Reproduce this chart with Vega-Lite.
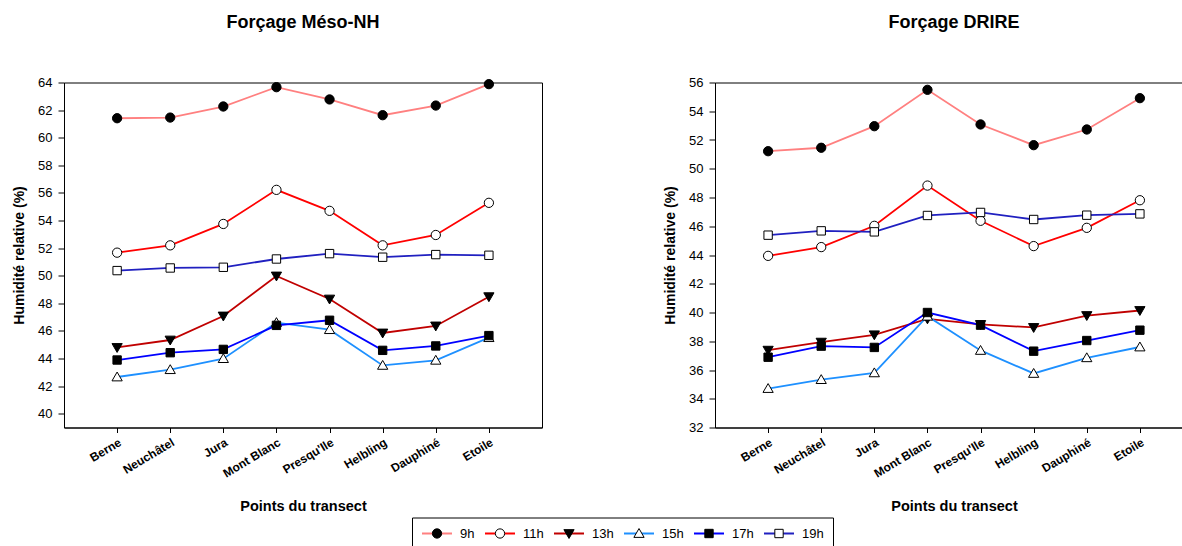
{
  "$schema": "https://vega.github.io/schema/vega-lite/v6.json",
  "background": "white",
  "padding": {"left": 12, "top": 12.5, "right": 0, "bottom": 0},
  "bounds": "flush",
  "spacing": 173,
  "config": {
    "font": "Liberation Sans",
    "view": {"stroke": "black", "strokeWidth": 1},
    "axis": {"domainColor": "black", "tickColor": "black", "labelColor": "black", "titleColor": "black", "grid": false, "labelFont": "Liberation Sans", "titleFont": "Liberation Sans"},
    "title": {"font": "Liberation Sans", "fontSize": 18, "fontWeight": "bold", "color": "black", "anchor": "middle"}
  },
  "datasets": {
    "rh": [
      {"forcage": "Méso-NH", "point": "Berne", "heure": "9h", "hr": 61.41},
      {"forcage": "Méso-NH", "point": "Neuchâtel", "heure": "9h", "hr": 61.46},
      {"forcage": "Méso-NH", "point": "Jura", "heure": "9h", "hr": 62.26},
      {"forcage": "Méso-NH", "point": "Mont Blanc", "heure": "9h", "hr": 63.66},
      {"forcage": "Méso-NH", "point": "Presqu'Ile", "heure": "9h", "hr": 62.77},
      {"forcage": "Méso-NH", "point": "Helbling", "heure": "9h", "hr": 61.63},
      {"forcage": "Méso-NH", "point": "Dauphiné", "heure": "9h", "hr": 62.33},
      {"forcage": "Méso-NH", "point": "Etoile", "heure": "9h", "hr": 63.88},
      {"forcage": "Méso-NH", "point": "Berne", "heure": "11h", "hr": 51.67},
      {"forcage": "Méso-NH", "point": "Neuchâtel", "heure": "11h", "hr": 52.2},
      {"forcage": "Méso-NH", "point": "Jura", "heure": "11h", "hr": 53.75},
      {"forcage": "Méso-NH", "point": "Mont Blanc", "heure": "11h", "hr": 56.22},
      {"forcage": "Méso-NH", "point": "Presqu'Ile", "heure": "11h", "hr": 54.7},
      {"forcage": "Méso-NH", "point": "Helbling", "heure": "11h", "hr": 52.2},
      {"forcage": "Méso-NH", "point": "Dauphiné", "heure": "11h", "hr": 52.95},
      {"forcage": "Méso-NH", "point": "Etoile", "heure": "11h", "hr": 55.28},
      {"forcage": "Méso-NH", "point": "Berne", "heure": "13h", "hr": 44.8},
      {"forcage": "Méso-NH", "point": "Neuchâtel", "heure": "13h", "hr": 45.34},
      {"forcage": "Méso-NH", "point": "Jura", "heure": "13h", "hr": 47.08},
      {"forcage": "Méso-NH", "point": "Mont Blanc", "heure": "13h", "hr": 49.98},
      {"forcage": "Méso-NH", "point": "Presqu'Ile", "heure": "13h", "hr": 48.31},
      {"forcage": "Méso-NH", "point": "Helbling", "heure": "13h", "hr": 45.85},
      {"forcage": "Méso-NH", "point": "Dauphiné", "heure": "13h", "hr": 46.36},
      {"forcage": "Méso-NH", "point": "Etoile", "heure": "13h", "hr": 48.48},
      {"forcage": "Méso-NH", "point": "Berne", "heure": "15h", "hr": 42.66},
      {"forcage": "Méso-NH", "point": "Neuchâtel", "heure": "15h", "hr": 43.19},
      {"forcage": "Méso-NH", "point": "Jura", "heure": "15h", "hr": 43.99},
      {"forcage": "Méso-NH", "point": "Mont Blanc", "heure": "15h", "hr": 46.6},
      {"forcage": "Méso-NH", "point": "Presqu'Ile", "heure": "15h", "hr": 46.09},
      {"forcage": "Méso-NH", "point": "Helbling", "heure": "15h", "hr": 43.5},
      {"forcage": "Méso-NH", "point": "Dauphiné", "heure": "15h", "hr": 43.87},
      {"forcage": "Méso-NH", "point": "Etoile", "heure": "15h", "hr": 45.51},
      {"forcage": "Méso-NH", "point": "Berne", "heure": "17h", "hr": 43.89},
      {"forcage": "Méso-NH", "point": "Neuchâtel", "heure": "17h", "hr": 44.42},
      {"forcage": "Méso-NH", "point": "Jura", "heure": "17h", "hr": 44.66},
      {"forcage": "Méso-NH", "point": "Mont Blanc", "heure": "17h", "hr": 46.4},
      {"forcage": "Méso-NH", "point": "Presqu'Ile", "heure": "17h", "hr": 46.77},
      {"forcage": "Méso-NH", "point": "Helbling", "heure": "17h", "hr": 44.59},
      {"forcage": "Méso-NH", "point": "Dauphiné", "heure": "17h", "hr": 44.91},
      {"forcage": "Méso-NH", "point": "Etoile", "heure": "17h", "hr": 45.66},
      {"forcage": "Méso-NH", "point": "Berne", "heure": "19h", "hr": 50.37},
      {"forcage": "Méso-NH", "point": "Neuchâtel", "heure": "19h", "hr": 50.56},
      {"forcage": "Méso-NH", "point": "Jura", "heure": "19h", "hr": 50.61},
      {"forcage": "Méso-NH", "point": "Mont Blanc", "heure": "19h", "hr": 51.21},
      {"forcage": "Méso-NH", "point": "Presqu'Ile", "heure": "19h", "hr": 51.6},
      {"forcage": "Méso-NH", "point": "Helbling", "heure": "19h", "hr": 51.34},
      {"forcage": "Méso-NH", "point": "Dauphiné", "heure": "19h", "hr": 51.53},
      {"forcage": "Méso-NH", "point": "Etoile", "heure": "19h", "hr": 51.48},
      {"forcage": "DRIRE", "point": "Berne", "heure": "9h", "hr": 51.22},
      {"forcage": "DRIRE", "point": "Neuchâtel", "heure": "9h", "hr": 51.46},
      {"forcage": "DRIRE", "point": "Jura", "heure": "9h", "hr": 52.96},
      {"forcage": "DRIRE", "point": "Mont Blanc", "heure": "9h", "hr": 55.49},
      {"forcage": "DRIRE", "point": "Presqu'Ile", "heure": "9h", "hr": 53.08},
      {"forcage": "DRIRE", "point": "Helbling", "heure": "9h", "hr": 51.64},
      {"forcage": "DRIRE", "point": "Dauphiné", "heure": "9h", "hr": 52.73},
      {"forcage": "DRIRE", "point": "Etoile", "heure": "9h", "hr": 54.91},
      {"forcage": "DRIRE", "point": "Berne", "heure": "11h", "hr": 43.94},
      {"forcage": "DRIRE", "point": "Neuchâtel", "heure": "11h", "hr": 44.55},
      {"forcage": "DRIRE", "point": "Jura", "heure": "11h", "hr": 46.03},
      {"forcage": "DRIRE", "point": "Mont Blanc", "heure": "11h", "hr": 48.83},
      {"forcage": "DRIRE", "point": "Presqu'Ile", "heure": "11h", "hr": 46.38},
      {"forcage": "DRIRE", "point": "Helbling", "heure": "11h", "hr": 44.62},
      {"forcage": "DRIRE", "point": "Dauphiné", "heure": "11h", "hr": 45.89},
      {"forcage": "DRIRE", "point": "Etoile", "heure": "11h", "hr": 47.81},
      {"forcage": "DRIRE", "point": "Berne", "heure": "13h", "hr": 37.38},
      {"forcage": "DRIRE", "point": "Neuchâtel", "heure": "13h", "hr": 37.94},
      {"forcage": "DRIRE", "point": "Jura", "heure": "13h", "hr": 38.45},
      {"forcage": "DRIRE", "point": "Mont Blanc", "heure": "13h", "hr": 39.56},
      {"forcage": "DRIRE", "point": "Presqu'Ile", "heure": "13h", "hr": 39.17},
      {"forcage": "DRIRE", "point": "Helbling", "heure": "13h", "hr": 38.96},
      {"forcage": "DRIRE", "point": "Dauphiné", "heure": "13h", "hr": 39.79},
      {"forcage": "DRIRE", "point": "Etoile", "heure": "13h", "hr": 40.14},
      {"forcage": "DRIRE", "point": "Berne", "heure": "15h", "hr": 34.71},
      {"forcage": "DRIRE", "point": "Neuchâtel", "heure": "15h", "hr": 35.33},
      {"forcage": "DRIRE", "point": "Jura", "heure": "15h", "hr": 35.8},
      {"forcage": "DRIRE", "point": "Mont Blanc", "heure": "15h", "hr": 39.74},
      {"forcage": "DRIRE", "point": "Presqu'Ile", "heure": "15h", "hr": 37.36},
      {"forcage": "DRIRE", "point": "Helbling", "heure": "15h", "hr": 35.76},
      {"forcage": "DRIRE", "point": "Dauphiné", "heure": "15h", "hr": 36.85},
      {"forcage": "DRIRE", "point": "Etoile", "heure": "15h", "hr": 37.6},
      {"forcage": "DRIRE", "point": "Berne", "heure": "17h", "hr": 36.89},
      {"forcage": "DRIRE", "point": "Neuchâtel", "heure": "17h", "hr": 37.66},
      {"forcage": "DRIRE", "point": "Jura", "heure": "17h", "hr": 37.57},
      {"forcage": "DRIRE", "point": "Mont Blanc", "heure": "17h", "hr": 40.0},
      {"forcage": "DRIRE", "point": "Presqu'Ile", "heure": "17h", "hr": 39.12},
      {"forcage": "DRIRE", "point": "Helbling", "heure": "17h", "hr": 37.31},
      {"forcage": "DRIRE", "point": "Dauphiné", "heure": "17h", "hr": 38.05},
      {"forcage": "DRIRE", "point": "Etoile", "heure": "17h", "hr": 38.77},
      {"forcage": "DRIRE", "point": "Berne", "heure": "19h", "hr": 45.38},
      {"forcage": "DRIRE", "point": "Neuchâtel", "heure": "19h", "hr": 45.68},
      {"forcage": "DRIRE", "point": "Jura", "heure": "19h", "hr": 45.61},
      {"forcage": "DRIRE", "point": "Mont Blanc", "heure": "19h", "hr": 46.75},
      {"forcage": "DRIRE", "point": "Presqu'Ile", "heure": "19h", "hr": 46.96},
      {"forcage": "DRIRE", "point": "Helbling", "heure": "19h", "hr": 46.47},
      {"forcage": "DRIRE", "point": "Dauphiné", "heure": "19h", "hr": 46.77},
      {"forcage": "DRIRE", "point": "Etoile", "heure": "19h", "hr": 46.86}
    ]
  },
  "data": {"name": "rh"},
  "resolve": {"scale": {"y": "independent", "x": "independent"}},
  "hconcat": [
    {
      "title": {"text": "Forçage Méso-NH", "offset": 45},
      "width": 478,
      "height": 345,
      "transform": [{"filter": "datum.forcage === 'Méso-NH'"}],
      "encoding": {
        "x": {"field": "point", "type": "nominal", "sort": ["Berne", "Neuchâtel", "Jura", "Mont Blanc", "Presqu'Ile", "Helbling", "Dauphiné", "Etoile"], "scale": {"type": "point", "padding": 1},
          "axis": {"title": "Points du transect", "titleFontSize": 14.5, "titleFontWeight": "bold", "titlePadding": 20, "labelAngle": -31, "labelAlign": "right", "labelBaseline": "top", "labelFontWeight": "bold", "labelFontSize": 12, "labelPadding": 4, "tickSize": 5, "labelOverlap": false, "labelBound": false}},
        "y": {"field": "hr", "type": "quantitative", "scale": {"domain": [39, 64], "nice": false, "zero": false},
          "axis": {"title": "Humidité relative (%)", "values": [40, 42, 44, 46, 48, 50, 52, 54, 56, 58, 60, 62, 64], "titleFontSize": 14, "titleFontWeight": "bold", "titlePadding": 11, "labelFontSize": 13, "labelPadding": 6, "tickSize": 6}}
      },
      "layer": [
        {"mark": {"type": "line", "strokeWidth": 1.8},
          "encoding": {"color": {"field": "heure", "type": "nominal",
            "scale": {"domain": ["9h", "11h", "13h", "15h", "17h", "19h"], "range": ["#ff8080", "#ff0000", "#c00000", "#1e90ff", "#0000ff", "#2020c0"]},
            "legend": {"orient": "none", "legendX": 348, "legendY": 435, "direction": "horizontal", "title": null, "symbolType": "stroke", "symbolSize": 900, "symbolStrokeWidth": 2, "labelFontSize": 13, "labelFont": "Liberation Sans", "labelColor": "black", "labelOffset": 7, "columnPadding": 9, "gridAlign": "each", "clipHeight": 14, "padding": 9, "strokeColor": "black", "values": ["9h", "11h", "13h", "15h", "17h", "19h"]}}}},
        {"mark": {"type": "point", "filled": true, "stroke": "black", "strokeWidth": 1, "size": 961, "opacity": 1},
          "encoding": {
            "shape": {"field": "heure", "type": "nominal",
              "scale": {"domain": ["19h", "17h", "15h", "13h", "11h", "9h"], "range": ["M-1 0M1 0M-0.27 -0.27H0.27V0.27H-0.27Z", "M-1 0M1 0M-0.27 -0.27H0.27V0.27H-0.27Z", "M-1 0M1 0M0 -0.32L0.33 0.25H-0.33Z", "M-1 0M1 0M-0.33 -0.25H0.33L0 0.32Z", "M-1 0M1 0M0.3 0A0.3 0.3 0 1 1 -0.3 0A0.3 0.3 0 1 1 0.3 0Z", "M-1 0M1 0M0.3 0A0.3 0.3 0 1 1 -0.3 0A0.3 0.3 0 1 1 0.3 0Z"]},
              "legend": {"orient": "none", "legendX": 348, "legendY": 435, "direction": "horizontal", "title": null, "symbolSize": 961, "symbolStrokeWidth": 1, "symbolStrokeColor": "black", "symbolOpacity": 1, "labelFontSize": 13, "labelFont": "Liberation Sans", "labelOpacity": 0, "labelOffset": 7, "columnPadding": 9, "gridAlign": "each", "clipHeight": 14, "padding": 9, "values": ["9h", "11h", "13h", "15h", "17h", "19h"],
                "encode": {"symbols": {"update": {"stroke": {"value": "black"}, "strokeWidth": {"value": 1}, "opacity": {"value": 1}}}}}},
            "fill": {"field": "heure", "type": "nominal",
              "scale": {"domain": ["19h", "17h", "15h", "13h", "11h", "9h"], "range": ["white", "black", "white", "black", "white", "black"]},
              "legend": {"orient": "none", "legendX": 348, "legendY": 435, "direction": "horizontal", "title": null, "symbolSize": 961, "symbolStrokeWidth": 1, "symbolStrokeColor": "black", "symbolOpacity": 1, "labelFontSize": 13, "labelFont": "Liberation Sans", "labelOpacity": 0, "labelOffset": 7, "columnPadding": 9, "gridAlign": "each", "clipHeight": 14, "padding": 9, "values": ["9h", "11h", "13h", "15h", "17h", "19h"],
                "encode": {"symbols": {"update": {"stroke": {"value": "black"}, "strokeWidth": {"value": 1}, "opacity": {"value": 1}}}}}}
          }}
      ]
    },
    {
      "title": {"text": "Forçage DRIRE", "offset": 45},
      "width": 478,
      "height": 345,
      "transform": [{"filter": "datum.forcage === 'DRIRE'"}],
      "encoding": {
        "x": {"field": "point", "type": "nominal", "sort": ["Berne", "Neuchâtel", "Jura", "Mont Blanc", "Presqu'Ile", "Helbling", "Dauphiné", "Etoile"], "scale": {"type": "point", "padding": 1},
          "axis": {"title": "Points du transect", "titleFontSize": 14.5, "titleFontWeight": "bold", "titlePadding": 20, "labelAngle": -31, "labelAlign": "right", "labelBaseline": "top", "labelFontWeight": "bold", "labelFontSize": 12, "labelPadding": 4, "tickSize": 5, "labelOverlap": false, "labelBound": false}},
        "y": {"field": "hr", "type": "quantitative", "scale": {"domain": [32, 56], "nice": false, "zero": false},
          "axis": {"title": "Humidité relative (%)", "values": [32, 34, 36, 38, 40, 42, 44, 46, 48, 50, 52, 54, 56], "titleFontSize": 14, "titleFontWeight": "bold", "titlePadding": 11, "labelFontSize": 13, "labelPadding": 6, "tickSize": 6}}
      },
      "layer": [
        {"mark": {"type": "line", "strokeWidth": 1.8},
          "encoding": {"color": {"field": "heure", "type": "nominal",
            "scale": {"domain": ["9h", "11h", "13h", "15h", "17h", "19h"], "range": ["#ff8080", "#ff0000", "#c00000", "#1e90ff", "#0000ff", "#2020c0"]},
            "legend": {"orient": "none", "legendX": 348, "legendY": 435, "direction": "horizontal", "title": null, "symbolType": "stroke", "symbolSize": 900, "symbolStrokeWidth": 2, "labelFontSize": 13, "labelFont": "Liberation Sans", "labelColor": "black", "labelOffset": 7, "columnPadding": 9, "gridAlign": "each", "clipHeight": 14, "padding": 9, "strokeColor": "black", "values": ["9h", "11h", "13h", "15h", "17h", "19h"]}}}},
        {"mark": {"type": "point", "filled": true, "stroke": "black", "strokeWidth": 1, "size": 961, "opacity": 1},
          "encoding": {
            "shape": {"field": "heure", "type": "nominal",
              "scale": {"domain": ["19h", "17h", "15h", "13h", "11h", "9h"], "range": ["M-1 0M1 0M-0.27 -0.27H0.27V0.27H-0.27Z", "M-1 0M1 0M-0.27 -0.27H0.27V0.27H-0.27Z", "M-1 0M1 0M0 -0.32L0.33 0.25H-0.33Z", "M-1 0M1 0M-0.33 -0.25H0.33L0 0.32Z", "M-1 0M1 0M0.3 0A0.3 0.3 0 1 1 -0.3 0A0.3 0.3 0 1 1 0.3 0Z", "M-1 0M1 0M0.3 0A0.3 0.3 0 1 1 -0.3 0A0.3 0.3 0 1 1 0.3 0Z"]},
              "legend": {"orient": "none", "legendX": 348, "legendY": 435, "direction": "horizontal", "title": null, "symbolSize": 961, "symbolStrokeWidth": 1, "symbolStrokeColor": "black", "symbolOpacity": 1, "labelFontSize": 13, "labelFont": "Liberation Sans", "labelOpacity": 0, "labelOffset": 7, "columnPadding": 9, "gridAlign": "each", "clipHeight": 14, "padding": 9, "values": ["9h", "11h", "13h", "15h", "17h", "19h"],
                "encode": {"symbols": {"update": {"stroke": {"value": "black"}, "strokeWidth": {"value": 1}, "opacity": {"value": 1}}}}}},
            "fill": {"field": "heure", "type": "nominal",
              "scale": {"domain": ["19h", "17h", "15h", "13h", "11h", "9h"], "range": ["white", "black", "white", "black", "white", "black"]},
              "legend": {"orient": "none", "legendX": 348, "legendY": 435, "direction": "horizontal", "title": null, "symbolSize": 961, "symbolStrokeWidth": 1, "symbolStrokeColor": "black", "symbolOpacity": 1, "labelFontSize": 13, "labelFont": "Liberation Sans", "labelOpacity": 0, "labelOffset": 7, "columnPadding": 9, "gridAlign": "each", "clipHeight": 14, "padding": 9, "values": ["9h", "11h", "13h", "15h", "17h", "19h"],
                "encode": {"symbols": {"update": {"stroke": {"value": "black"}, "strokeWidth": {"value": 1}, "opacity": {"value": 1}}}}}}
          }}
      ]
    }
  ]
}
